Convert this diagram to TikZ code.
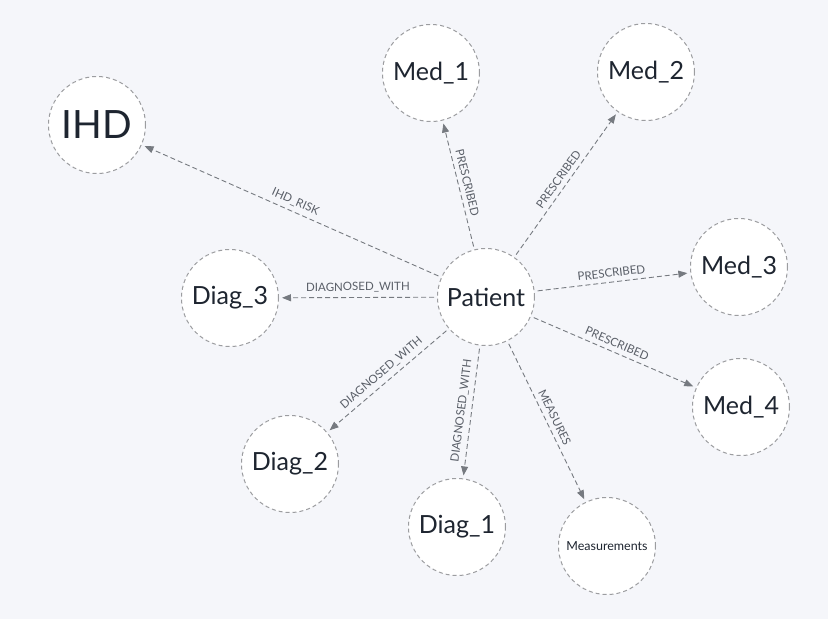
\documentclass[tikz,border=0pt]{standalone}
\usepackage{fontspec}
\setmainfont{Lato}
\usetikzlibrary{arrows.meta}
\definecolor{bg}{HTML}{F5F6FA}
\definecolor{ringc}{HTML}{9C9DA0}
\definecolor{edgec}{HTML}{767A80}
\definecolor{txtc}{HTML}{1E2530}
\definecolor{lblc}{HTML}{5A5F68}
\tikzset{
  ent/.style={circle, draw=ringc, line width=1pt, dash pattern=on 4pt off 3pt, fill=white, minimum size=97pt, inner sep=0pt, text=txtc, font=\fontsize{25}{28}\selectfont},
  rel/.style={draw=edgec, line width=0.9pt, dash pattern=on 5pt off 3pt, -{Triangle[length=9pt,width=7pt]}, shorten >=3pt, shorten <=3pt},
  lbl/.style={midway, sloped, above=2.5pt, text=lblc, inner sep=2pt, font=\fontsize{11.5}{13}\selectfont}
}
\begin{document}
\begin{tikzpicture}[x=1pt,y=-1pt]
\fill[bg] (0,0) rectangle (828,619);
\useasboundingbox (0,0) rectangle (828,619);
\node[ent] (p) at (486,297) {Patient};
\node[ent, font=\fontsize{39}{42}\selectfont] (ihd) at (97,125) {IHD};
\node[ent] (m1) at (431,73) {Med\_1};
\node[ent] (m2) at (646,72) {Med\_2};
\node[ent] (m3) at (739,267) {Med\_3};
\node[ent] (m4) at (741,407) {Med\_4};
\node[ent] (d3) at (230,298) {Diag\_3};
\node[ent] (d2) at (290,464) {Diag\_2};
\node[ent] (d1) at (457,527) {Diag\_1};
\node[ent, font=\fontsize{12.5}{14}\selectfont] (ms) at (607,546) {Measurements};
\draw[rel] (p) -- node[lbl]{IHD\_RISK} (ihd);
\draw[rel] (p) -- node[lbl]{PRESCRIBED} (m1);
\draw[rel] (p) -- node[lbl]{PRESCRIBED} (m2);
\draw[rel] (p) -- node[lbl]{PRESCRIBED} (m3);
\draw[rel] (p) -- node[lbl]{PRESCRIBED} (m4);
\draw[rel] (p) -- node[lbl]{DIAGNOSED\_WITH} (d3);
\draw[rel] (p) -- node[lbl]{DIAGNOSED\_WITH} (d2);
\draw[rel] (p) -- node[lbl]{DIAGNOSED\_WITH} (d1);
\draw[rel] (p) -- node[lbl]{MEASURES} (ms);
\end{tikzpicture}
\end{document}
